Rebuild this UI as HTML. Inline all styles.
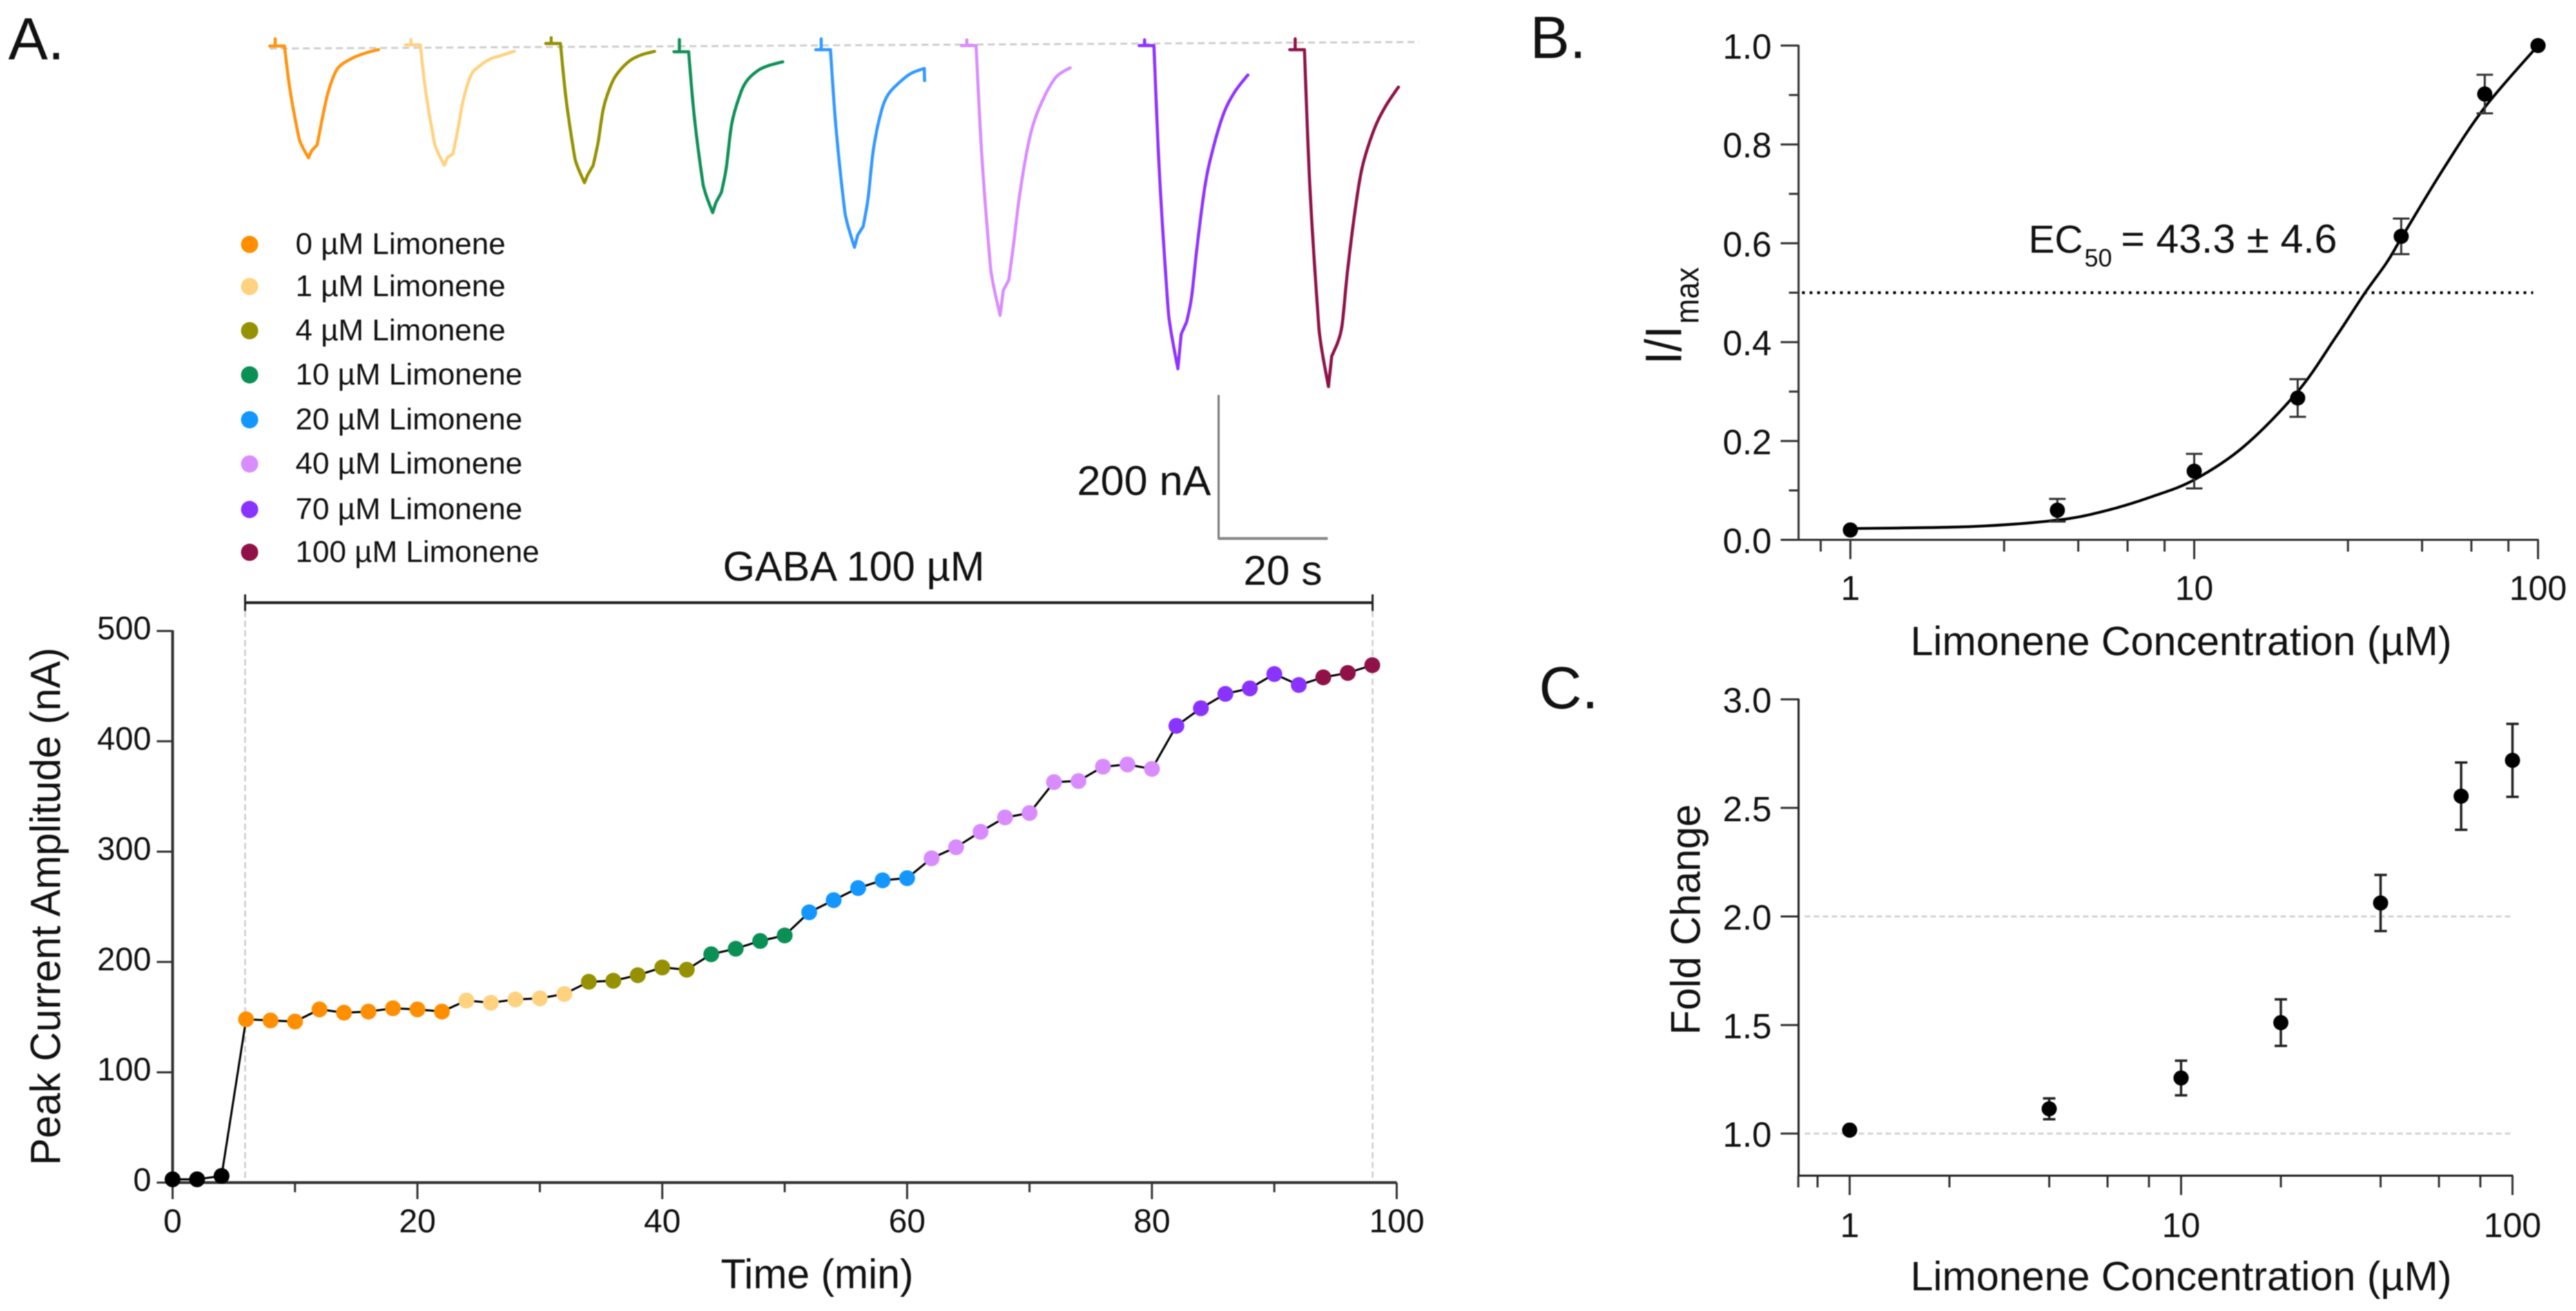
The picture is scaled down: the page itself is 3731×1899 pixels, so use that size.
<!DOCTYPE html>
<html lang="en">
<head>
<meta charset="utf-8">
<title>Limonene potentiation of GABA currents</title>
<style>
html,body{margin:0;padding:0;background:#fff;}
svg{display:block;font-family:"Liberation Sans",sans-serif;fill:#111;filter:blur(0.8px);}
</style>
</head>
<body>
<svg id="figure" xmlns="http://www.w3.org/2000/svg" width="3731" height="1899" viewBox="0 0 3731 1899">
<rect width="3731" height="1899" fill="#fff"/>

<text x="12" y="86" font-size="86">A.</text>
<text x="2216" y="84" font-size="86">B.</text>
<text x="2229" y="1026" font-size="86">C.</text>

<g id="traces"></g>
<g id="legend"></g>

<g>
  <line x1="1765" y1="572" x2="1765" y2="781" stroke="#777" stroke-width="3"/>
  <line x1="1764" y1="780" x2="1923" y2="780" stroke="#888" stroke-width="4"/>
  <text x="1560" y="717" font-size="60" textLength="194" lengthAdjust="spacingAndGlyphs">200 nA</text>
  <text x="1801" y="847" font-size="60" textLength="114" lengthAdjust="spacingAndGlyphs">20 s</text>
</g>

<g>
  <text x="1047" y="841" font-size="60" textLength="379" lengthAdjust="spacingAndGlyphs">GABA 100 µM</text>
  <line x1="355" y1="873" x2="1988" y2="873" stroke="#222" stroke-width="4"/>
  <line x1="355" y1="861" x2="355" y2="885" stroke="#222" stroke-width="3"/>
  <line x1="1988" y1="861" x2="1988" y2="885" stroke="#222" stroke-width="3"/>
  <line x1="355" y1="885" x2="355" y2="1713" stroke="#ccc" stroke-width="2.5" stroke-dasharray="9 5"/>
  <line x1="1988" y1="885" x2="1988" y2="1713" stroke="#ccc" stroke-width="2.5" stroke-dasharray="9 5"/>
</g>

<g id="panel-a">
  <text transform="translate(87,1688) rotate(-90)" font-size="61" textLength="750" lengthAdjust="spacingAndGlyphs">Peak Current Amplitude (nA)</text>
  <text x="1044" y="1866" font-size="60" textLength="279" lengthAdjust="spacingAndGlyphs">Time (min)</text>
</g>

<g id="panel-b">
  <text transform="translate(2435,528) rotate(-90)" font-size="74" textLength="56" lengthAdjust="spacingAndGlyphs">I/I</text>
  <text transform="translate(2460,469) rotate(-90)" font-size="48" textLength="82" lengthAdjust="spacingAndGlyphs">max</text>
  <text x="2767" y="949" font-size="59" textLength="784" lengthAdjust="spacingAndGlyphs">Limonene Concentration (µM)</text>
  <text x="2938" y="366" font-size="57" textLength="79" lengthAdjust="spacingAndGlyphs">EC</text>
  <text x="3019" y="386" font-size="36" textLength="40" lengthAdjust="spacingAndGlyphs">50</text>
  <text x="3072" y="366" font-size="58" textLength="313" lengthAdjust="spacingAndGlyphs">= 43.3 ± 4.6</text>
</g>

<g id="panel-c">
  <text transform="translate(2462,1499) rotate(-90)" font-size="60" textLength="334" lengthAdjust="spacingAndGlyphs">Fold Change</text>
  <text x="2767" y="1869" font-size="59" textLength="784" lengthAdjust="spacingAndGlyphs">Limonene Concentration (µM)</text>
</g>
</svg>

<script>
/* ---------- Panel A: time course ---------- */
const timeMinutes = [0,2,4,6,8,10,12,14,16,18,20,22,24,26,28,30,32,34,36,38,40,42,44,46,48,50,52,54,56,58,60,62,64,66,68,70,72,74,76,78,80,82,84,86,88,90,92,94,96,98];
const peakCurrent = [3,3,6,148,147,146,157,154,155,158,157,155,165,163,166,167,171,182,183,188,195,193,207,212,219,224,245,256,267,274,276,294,304,318,331,335,363,364,377,379,375,414,430,443,448,461,451,458,462,469];
const pointGroup = [8,8,8,0,0,0,0,0,0,0,0,0,1,1,1,1,1,2,2,2,2,2,3,3,3,3,4,4,4,4,4,5,5,5,5,5,5,5,5,5,5,6,6,6,6,6,6,7,7,7];
const groupColors = ['#ff8f00','#ffd27f','#969100','#0a8f55','#1496ff','#d98cff','#8a33ff','#8f1148','#000000'];
const timeTicks = [0,10,20,30,40,50,60,70,80,90,100];
const timeTickLabels = ['0','','20','','40','','60','','80','','100'];
const currentTicks = [0,100,200,300,400,500];

/* ---------- Legend ---------- */
const legendLabels = ['0 µM Limonene','1 µM Limonene','4 µM Limonene','10 µM Limonene','20 µM Limonene','40 µM Limonene','70 µM Limonene','100 µM Limonene'];

/* ---------- Sweeps (seconds, nA) ---------- */
const sweepTime = [-2.7,-1.7,-1.7,-1.7,0,1,2.4,3,4.4,5,6,6.9,7.9,9.3,10.6,12.7,14.75,17.2,17.25];
const sweep0 = [0,0,10,0,0,-60,-118,-135,-155,-145,-137,-102,-67,-37,-25,-16,-10,-5,-5];
const sweep1 = [0,0,7,0,0,-65,-128,-145,-167,-156,-151,-117,-76,-42,-31,-20,-15,-9,-9];
const sweep2 = [0,0,8,0,0,-75,-148,-168,-193,-182,-169,-137,-89,-57,-40,-24,-16,-11,-11];
const sweep3 = [0,0,17,0,0,-87,-171,-194,-223,-209,-195,-161,-100,-62,-41,-26,-19,-14,-14];
const sweep4 = [0,0,15,0,0,-107,-210,-238,-274,-257,-245,-206,-137,-86,-62,-45,-33,-26,-43];
const sweep5 = [0,0,8,0,0,-146,-286,-325,-374,-339,-325,-274,-212,-147,-106,-68,-43,-31,-31];
const sweep6 = [0,0,8,0,0,-175,-343,-390,-448,-400,-383,-349,-280,-198,-150,-96,-65,-41,-41];
const sweep7 = [0,0,15,0,0,-190,-359,-407,-467,-425,-408,-382,-307,-222,-163,-112,-80,-52,-52];
const sweepOnset = [0,24.9,50.6,74.1,100.1,126.8,159.4,187];
const sweepBaseline = [0.6,-1,-2.9,8.6,5.7,0,0,5.7];
const sweepColors = ['#ff9410','#ffd27f','#969100','#0f9058','#3399ff','#d98cff','#8f33ff','#8f1148'];
const baselineStart = [-2.7,4.2];
const baselineEnd = [208,-5];

/* ---------- Panel B: dose response ---------- */
const concB = [1,4,10,20,40,70,100];
const normalized = [0.02,0.06,0.139,0.287,0.614,0.902,1.0];
const normalizedErr = [0,0.023,0.035,0.038,0.036,0.039,0];
const fitConc = [1,2.25,4,5.53,7.5,10,13.95,20,25.8,31.3,36.3,40,53,70,100];
const fitValues = [0.023,0.027,0.04,0.059,0.087,0.1215,0.189,0.30,0.41,0.4986,0.561,0.61,0.75,0.875,1.0];
const normTicks = [0,0.1,0.2,0.3,0.4,0.5,0.6,0.7,0.8,0.9,1.0];
const normTickLabels = ['0.0','','0.2','','0.4','','0.6','','0.8','','1.0'];
const concTicksB = [0.82,1,2.8,4.6,6.4,8.2,10,28,46,64,82,100];
const concLabels = ['1','10','100'];
const concMajor = [1,10,100];
const halfLevel = [0.5];

/* ---------- Panel C: fold change ---------- */
const concC = [1,4,10,20,40,70,100];
const foldChange = [1.016,1.114,1.256,1.511,2.062,2.554,2.719];
const foldErr = [0,0.048,0.08,0.107,0.129,0.155,0.168];
const foldTicks = [1,1.5,2,2.5,3];
const foldTickLabels = ['1.0','1.5','2.0','2.5','3.0'];
const foldGuides = [1,2];
const concTicksC = [0.7,0.8,1,2,4,6,8,10,20,40,60,80,100];

/* ---------- Axis functions ---------- */
const xA = t => 250 + t * 17.73;
const yA = v => 1713 - v * 1.598;
const xTrace = (onset, t) => 412 + (onset + t) * 7.9;
const yTrace = (base, i) => 66 + (base - i) * 1.045;
const xB = c => 2680 + Math.log10(c) * 498;
const yB = v => 782 - v * 716;
const xC = c => 2679 + Math.log10(c) * 480;
const yC = v => 1642 - (v - 1) * 314.5;

const NS = 'http://www.w3.org/2000/svg';
function mk(parent, tag, props) {
  const el = document.createElementNS(NS, tag);
  for (const k in props) el.setAttribute(k, props[k]);
  parent.appendChild(el);
  return el;
}
function seg(parent, x1, y1, x2, y2, stroke, width, dash) {
  const p = {x1, y1, x2, y2, stroke, 'stroke-width': width};
  if (dash) p['stroke-dasharray'] = dash;
  return mk(parent, 'line', p);
}
function txt(parent, x, y, size, anchor, s) {
  const el = mk(parent, 'text', {x, y, 'font-size': size, 'text-anchor': anchor});
  el.textContent = s;
  return el;
}
function curveTo(pts) {
  let d = '';
  for (let i = 0; i < pts.length - 1; i++) {
    const p0 = pts[Math.max(i - 1, 0)], p1 = pts[i], p2 = pts[i + 1], p3 = pts[Math.min(i + 2, pts.length - 1)];
    d += ' C' + (p1[0] + (p2[0] - p0[0]) / 6).toFixed(1) + ' ' + (p1[1] + (p2[1] - p0[1]) / 6).toFixed(1) + ' ' +
         (p2[0] - (p3[0] - p1[0]) / 6).toFixed(1) + ' ' + (p2[1] - (p3[1] - p1[1]) / 6).toFixed(1) + ' ' + p2[0].toFixed(1) + ' ' + p2[1].toFixed(1);
  }
  return d;
}
function smooth(pts) {
  return 'M' + pts[0][0] + ' ' + pts[0][1] + curveTo(pts);
}
function tracePath(pts) {
  let d = 'M' + pts[0][0].toFixed(1) + ' ' + pts[0][1].toFixed(1);
  for (let i = 1; i <= 4; i++) d += ' L' + pts[i][0].toFixed(1) + ' ' + pts[i][1].toFixed(1);
  d += curveTo(pts.slice(4, 9));
  d += ' L' + pts[9][0].toFixed(1) + ' ' + pts[9][1].toFixed(1);
  d += ' L' + pts[10][0].toFixed(1) + ' ' + pts[10][1].toFixed(1);
  d += curveTo(pts.slice(10, 18));
  d += ' L' + pts[18][0].toFixed(1) + ' ' + pts[18][1].toFixed(1);
  return d;
}

/* Sweeps */
const tracesG = document.getElementById('traces');
const dashedBaseline = seg(tracesG, xTrace(0, baselineStart[0]), yTrace(baselineStart[1], 0), xTrace(0, baselineEnd[0]), yTrace(baselineEnd[1], 0), '#cfcfcf', 3, '10 6');


[sweep0, sweep1, sweep2, sweep3, sweep4, sweep5, sweep6, sweep7].forEach((sweep, s) => {
  const pts = sweep.map((v, i) => [xTrace(sweepOnset[s], sweepTime[i]), yTrace(sweepBaseline[s], v)]);
  const trace = mk(tracesG, 'path', {d: tracePath(pts), fill: 'none', stroke: sweepColors[s], 'stroke-width': 4.5, 'stroke-linejoin': 'round', 'stroke-linecap': 'round'});
  
  
});

/* Legend */
const legendG = document.getElementById('legend');
legendLabels.forEach((label, i) => {
  const rowY = [354, 415, 479, 543, 608, 672, 738, 800][i];
  const swatch = mk(legendG, 'circle', {cx: 361.5, cy: rowY, r: 12.5, fill: groupColors[i]});
  
  
  const t = txt(legendG, 428, rowY + 14, 44, 'start', label);
  
  
});

/* Panel A */
const gA = document.getElementById('panel-a');
currentTicks.forEach(v => {
  const tick = seg(gA, 227, yA(v), 250, yA(v), '#333', 3);
  
  
  const lab = txt(gA, 219, yA(v) + 12, 47, 'end', String(v));
  
  
});
timeTicks.forEach((v, i) => {
  const isMajor = timeTickLabels[i] !== '';
  const tick = seg(gA, xA(v), 1713, xA(v), 1713 + (isMajor ? 24 : 14), '#333', 3);
  
  
  if (isMajor) {
    const lab = txt(gA, xA(v), 1785, 48, 'middle', timeTickLabels[i]);
    
    
  }
});
const axisAy = seg(gA, 250, yA(500) - 1, 250, 1714, '#333', 4);


const axisAx = seg(gA, 248, 1713, xA(100), 1713, '#333', 4);


const lineA = mk(gA, 'polyline', {points: timeMinutes.map((t, i) => xA(t).toFixed(1) + ',' + yA(peakCurrent[i]).toFixed(1)).join(' '), fill: 'none', stroke: '#000', 'stroke-width': 3});


timeMinutes.forEach((t, i) => {
  const dot = mk(gA, 'circle', {cx: xA(t), cy: yA(peakCurrent[i]), r: 11.5, fill: groupColors[pointGroup[i]]});
  
  
});

/* Panel B */
const gB = document.getElementById('panel-b');
normTicks.forEach((v, i) => {
  const isMajor = normTickLabels[i] !== '';
  const tick = seg(gB, 2605 - (isMajor ? 26 : 14), yB(v), 2605, yB(v), '#333', 3);
  
  
  if (isMajor) {
    const lab = txt(gB, 2566, yB(v) + 19, 51, 'end', normTickLabels[i]);
    
    
  }
});
concTicksB.forEach(c => {
  const isMajor = concMajor.includes(c);
  const tick = seg(gB, xB(c), 782, xB(c), 782 + (isMajor ? 28 : 17), '#333', 3);
  
  
});
concMajor.forEach((c, i) => {
  const lab = txt(gB, xB(c), 869, 50, 'middle', concLabels[i]);
  
  
});
const axisBy = seg(gB, 2605, yB(1) - 1, 2605, 783, '#333', 3);


const axisBx = seg(gB, 2604, 782, xB(100) + 1, 782, '#333', 3);


const halfLine = seg(gB, 2610, yB(halfLevel[0]), 3669, yB(halfLevel[0]), '#000', 4, '4 7');


const fitPath = mk(gB, 'path', {d: smooth(fitConc.map((c, i) => [xB(c), yB(fitValues[i])])), fill: 'none', stroke: '#000', 'stroke-width': 4});


concB.forEach((c, i) => {
  if (normalizedErr[i] > 0) {
    const stem = seg(gB, xB(c), yB(normalized[i] + normalizedErr[i]), xB(c), yB(normalized[i] - normalizedErr[i]), '#333', 3);
    
    
    [1, -1].forEach(sign => {
      const cap = seg(gB, xB(c) - 12, yB(normalized[i] + sign * normalizedErr[i]), xB(c) + 12, yB(normalized[i] + sign * normalizedErr[i]), '#333', 3);
      
      
    });
  }
  const dot = mk(gB, 'circle', {cx: xB(c), cy: yB(normalized[i]), r: 11, fill: '#000'});
  
  
});

/* Panel C */
const gC = document.getElementById('panel-c');
foldGuides.forEach(v => {
  const guide = seg(gC, 2614, yC(v), xC(100), yC(v), '#d4d4d4', 3, '8 5');
  
  
});
foldTicks.forEach((v, i) => {
  const tick = seg(gC, 2579, yC(v), 2605, yC(v), '#333', 3);
  
  
  const lab = txt(gC, 2566, yC(v) + 19, 51, 'end', foldTickLabels[i]);
  
  
});
concTicksC.forEach(c => {
  const isMajor = concMajor.includes(c);
  const tick = seg(gC, xC(c), 1703, xC(c), 1703 + (isMajor ? 28 : 17), '#333', 3);
  
  
});
concMajor.forEach((c, i) => {
  const lab = txt(gC, xC(c), 1792, 50, 'middle', concLabels[i]);
  
  
});
const axisCy = seg(gC, 2605, yC(3) - 1, 2605, 1704, '#222', 3);


const axisCx = seg(gC, 2604, 1703, xC(100) + 1, 1703, '#222', 3);


concC.forEach((c, i) => {
  if (foldErr[i] > 0) {
    const stem = seg(gC, xC(c), yC(foldChange[i] + foldErr[i]), xC(c), yC(foldChange[i] - foldErr[i]), '#222', 3.5);
    
    
    [1, -1].forEach(sign => {
      const cap = seg(gC, xC(c) - 9, yC(foldChange[i] + sign * foldErr[i]), xC(c) + 9, yC(foldChange[i] + sign * foldErr[i]), '#222', 3.5);
      
      
    });
  }
  const dot = mk(gC, 'circle', {cx: xC(c), cy: yC(foldChange[i]), r: 11, fill: '#000'});
  
  
});
</script>
</body>
</html>
